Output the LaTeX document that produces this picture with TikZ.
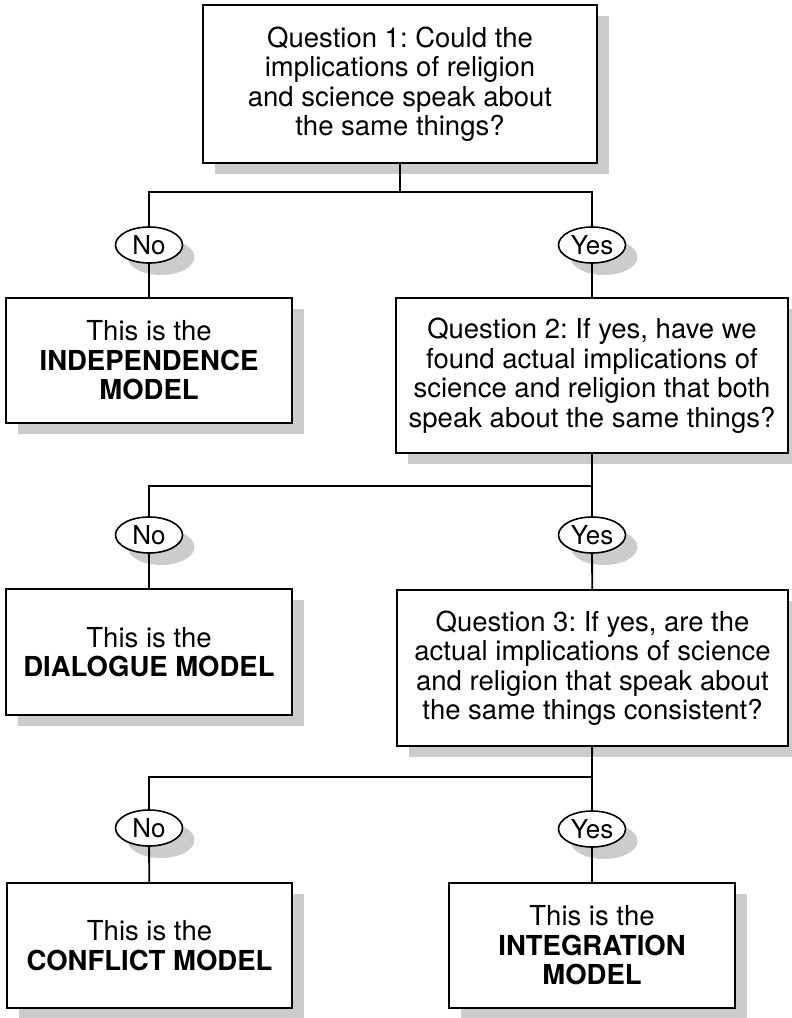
\documentclass[tikz,border=0pt]{standalone}
\usepackage{fontspec}
\setmainfont{TeX Gyre Heros}
\frenchspacing
\usetikzlibrary{positioning,shapes.geometric,shadows}
\tikzset{
    block/.style = {
        draw,
        shape=rectangle,
        fill=white,
        align=center,
        inner sep=0pt,
        line width=1.8pt,
        font=\fontsize{27.5}{29.5}\selectfont,
        drop shadow={shadow xshift=12pt, shadow yshift=-11pt, fill=black!20, opacity=1}
    },
    answer/.style = {
        draw,
        shape=ellipse,
        fill=white,
        inner sep=0pt,
        minimum width=67pt,
        minimum height=36pt,
        line width=1.6pt,
        font=\fontsize{26}{26}\selectfont,
        drop shadow={shadow xshift=12pt, shadow yshift=-12pt, fill=black!20, opacity=1}
    },
    link/.style = {
        draw,
        line width=1.8pt
    },
}

\begin{document}
\begin{tikzpicture}[x=1pt,y=-1pt]
    \useasboundingbox (0,0) rectangle (792,1018);

    \node[block, minimum width=394pt, minimum height=158pt] (q1) at (400,84) {Question 1: Could the\\implications of religion\\and science speak about\\the same things?};
    \node[block, minimum width=286pt, minimum height=125pt] (indep) at (149,360.5) {This is the\\\textbf{INDEPENDENCE}\\\textbf{MODEL}};
    \node[block, minimum width=392pt, minimum height=155pt] (q2) at (592,375.5) {Question 2: If yes, have we\\found actual implications of\\science and religion that both\\speak about the same things?};
    \node[block, minimum width=286pt, minimum height=126pt] (dialog) at (149,652) {This is the\\\textbf{DIALOGUE MODEL}};
    \node[block, minimum width=391pt, minimum height=156pt] (q3) at (592.5,668) {Question 3: If yes, are the\\actual implications of science\\and religion that speak about\\the same things consistent?};
    \node[block, minimum width=285pt, minimum height=125pt] (conflict) at (149.5,945.5) {This is the\\\textbf{CONFLICT MODEL}};
    \node[block, minimum width=286pt, minimum height=125pt] (integ) at (592,945.5) {This is the\\\textbf{INTEGRATION}\\\textbf{MODEL}};

    \node[answer] (no1) at (149,245) {No};
    \node[answer] (yes1) at (592,245) {Yes};
    \node[answer] (no2) at (149,535) {No};
    \node[answer] (yes2) at (592,535) {Yes};
    \node[answer] (no3) at (149,828) {No};
    \node[answer] (yes3) at (592,829) {Yes};

    \coordinate (j1) at (400,192);
    \coordinate (j2) at (592,486);
    \coordinate (j3) at (592,777);

    \path[link] (q1) -- (j1);
    \path[link] (no1) |- (j1) -| (yes1);
    \path[link] (no1) -- (indep);
    \path[link] (yes1) -- (q2);

    \path[link] (q2) -- (j2) -| (no2);
    \path[link] (j2) -- (yes2);
    \path[link] (no2) -- (dialog);
    \path[link] (yes2) -- (q3);

    \path[link] (q3) -- (j3) -| (no3);
    \path[link] (j3) -- (yes3);
    \path[link] (no3) -- (conflict);
    \path[link] (yes3) -- (integ);
\end{tikzpicture}
\end{document}
